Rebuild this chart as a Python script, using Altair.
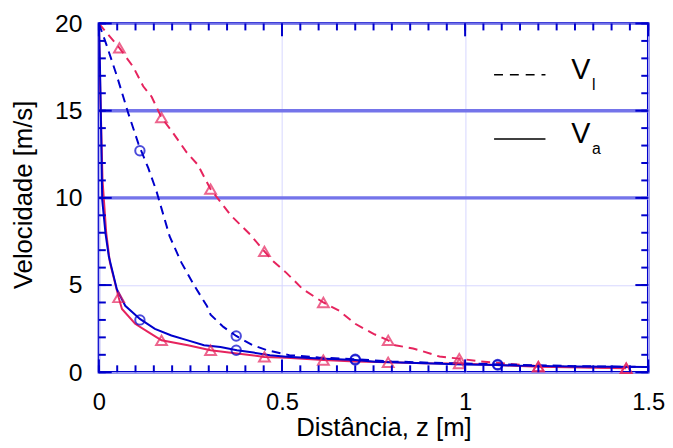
import altair as alt
import pandas as pd

# ---- data ----
# Blue series (circles): dashed = V_l, solid = V_a
blue_l_x = [0.0, 0.022, 0.049, 0.081, 0.108, 0.135, 0.157, 0.193, 0.225, 0.261, 0.295, 0.305, 0.34, 0.375, 0.42, 0.46, 0.52, 0.6, 0.7, 0.8, 0.9, 1.0, 1.1, 1.2, 1.3, 1.5]
blue_l_y = [20.0, 18.7, 17.0, 14.8, 13.1, 11.7, 10.4, 7.8, 6.3, 4.95, 3.8, 3.3, 2.6, 2.08, 1.55, 1.26, 0.98, 0.85, 0.75, 0.62, 0.55, 0.5, 0.45, 0.4, 0.35, 0.3]
blue_a_x = [0.0, 0.003, 0.006, 0.009, 0.018, 0.027, 0.049, 0.072, 0.112, 0.153, 0.198, 0.243, 0.287, 0.332, 0.377, 0.422, 0.467, 0.512, 0.602, 0.70, 0.755, 0.89, 0.997, 1.089, 1.14, 1.3, 1.5]
blue_a_y = [20.0, 17.5, 14.0, 9.9, 7.97, 6.65, 4.76, 3.81, 3.06, 2.49, 2.11, 1.83, 1.55, 1.45, 1.26, 1.13, 0.98, 0.89, 0.79, 0.70, 0.6, 0.51, 0.45, 0.41, 0.38, 0.33, 0.3]
blue_marker_l_x = [0.112, 0.375, 0.70, 1.089]
blue_marker_l_y = [12.7, 2.08, 0.75, 0.45]
blue_marker_a_x = [0.112, 0.375, 0.70, 1.089]
blue_marker_a_y = [3.0, 1.26, 0.70, 0.41]

# Red series (triangles): dashed = V_l, solid = V_a
red_l_x = [0.0, 0.056, 0.094, 0.121, 0.144, 0.171, 0.2, 0.24, 0.27, 0.305, 0.36, 0.413, 0.452, 0.476, 0.512, 0.557, 0.613, 0.656, 0.70, 0.75, 0.79, 0.809, 0.858, 0.88, 0.93, 0.984, 1.04, 1.2, 1.44]
red_l_y = [20.0, 18.6, 17.5, 16.4, 15.8, 14.6, 13.8, 12.6, 11.9, 10.5, 9.0, 7.9, 6.93, 6.36, 5.7, 4.76, 4.0, 3.53, 2.78, 2.2, 1.83, 1.55, 1.36, 1.23, 0.9, 0.78, 0.62, 0.35, 0.25]
red_a_x = [0.0, 0.004, 0.01, 0.02, 0.03, 0.054, 0.063, 0.099, 0.135, 0.171, 0.243, 0.305, 0.377, 0.452, 0.512, 0.613, 0.70, 0.79, 0.89, 0.984, 1.1, 1.2, 1.44]
red_a_y = [20.0, 16.0, 11.0, 8.0, 6.3, 4.29, 3.63, 2.78, 2.3, 1.83, 1.55, 1.26, 1.08, 0.88, 0.83, 0.70, 0.62, 0.57, 0.51, 0.5, 0.4, 0.32, 0.23]
red_marker_l_x = [0.056, 0.171, 0.305, 0.452, 0.613, 0.79, 0.984, 1.2, 1.44]
red_marker_l_y = [18.6, 14.6, 10.5, 6.93, 4.0, 1.83, 0.78, 0.32, 0.23]
red_marker_a_x = [0.054, 0.171, 0.305, 0.452, 0.613, 0.79, 0.984, 1.2, 1.44]
red_marker_a_y = [4.29, 1.83, 1.26, 0.88, 0.70, 0.57, 0.5, 0.32, 0.23]

x_tick_labels = [0, 0.5, 1, 1.5]
y_tick_labels = [0, 5, 10, 15, 20]
emphasized_levels = [10, 15]
x_minor_ticks = [round(i * 0.05, 2) for i in range(31)]
x_major_ticks = [0, 0.5, 1.0, 1.5]
y_minor_ticks = list(range(0, 21))
y_major_ticks = [0, 5, 10, 15, 20]

legend_entries = ["V", "V"]
legend_subs = ["l", "a"]

BLUE = "#0000cc"
RED = "#e6245e"
FONT = "Liberation Sans"
W, H = 556, 353

xs = alt.Scale(domain=[0, 1.5], nice=False, zero=False)
ys = alt.Scale(domain=[0, 20], nice=False, zero=False)


def series(xv, yv):
    return pd.DataFrame({"x": xv, "y": yv, "i": list(range(len(xv)))})


xaxis = alt.Axis(values=x_tick_labels, title="Distância, z [m]", grid=True,
                 gridColor="#d6d6ff", gridWidth=1, ticks=False, tickSize=0,
                 domain=False, labelFont=FONT, labelFontSize=24, labelColor="black",
                 labelBaseline="alphabetic", labelPadding=38,
                 titleFont=FONT, titleFontSize=26, titleFontWeight="normal",
                 titleColor="black", titleBaseline="alphabetic", titleX=288, titleY=64,
                 labelFlush=False, format="~g")
yaxis = alt.Axis(values=y_tick_labels, title="Velocidade [m/s]", grid=True,
                 gridColor="#d6d6ff", gridWidth=1, ticks=False, tickSize=0,
                 domain=False, labelFont=FONT, labelFontSize=25, labelColor="black",
                 labelPadding=17,
                 titleFont=FONT, titleFontSize=26, titleFontWeight="normal",
                 titleColor="black", titleBaseline="alphabetic", titleX=-68, titleY=173,
                 labelFlush=False)

base_df = series([0, 1.5], [0, 20])
frame = alt.Chart(base_df).mark_point(opacity=0).encode(
    x=alt.X("x:Q", scale=xs, axis=xaxis),
    y=alt.Y("y:Q", scale=ys, axis=yaxis),
)

thick = alt.Chart(pd.DataFrame({"y": emphasized_levels})).mark_rule(
    color="#7474ea", strokeWidth=3.5).encode(y=alt.Y("y:Q", scale=ys))


def line(df, color, dashed):
    kw = {"strokeDash": [9, 6]} if dashed else {}
    return alt.Chart(df).mark_line(color=color, strokeWidth=2, clip=True, **kw).encode(
        x=alt.X("x:Q", scale=xs), y=alt.Y("y:Q", scale=ys), order="i:Q")


def markers(df, color, shape, size):
    return alt.Chart(df).mark_point(shape=shape, color=color, filled=False,
                                    strokeWidth=2, size=size).encode(
        x=alt.X("x:Q", scale=xs), y=alt.Y("y:Q", scale=ys))


layers = [
    frame, thick,
    line(series(red_l_x, red_l_y), RED, True),
    line(series(red_a_x, red_a_y), RED, False),
    line(series(blue_l_x, blue_l_y), BLUE, True),
    line(series(blue_a_x, blue_a_y), BLUE, False),
    markers(series(blue_marker_l_x, blue_marker_l_y), BLUE, "circle", 90),
    markers(series(blue_marker_a_x, blue_marker_a_y), BLUE, "circle", 90),
    markers(series(red_marker_l_x, red_marker_l_y), RED, "triangle-up", 120),
    markers(series(red_marker_a_x, red_marker_a_y), RED, "triangle-up", 120),
]

# inward ticks on all four sides
xmin_df = pd.DataFrame({"x": x_minor_ticks})
xmaj_df = pd.DataFrame({"x": x_major_ticks})
ymin_df = pd.DataFrame({"y": y_minor_ticks})
ymaj_df = pd.DataFrame({"y": y_major_ticks})
for df, ln in ((xmin_df, 7), (xmaj_df, 13)):
    layers.append(alt.Chart(df).mark_rule(color=BLUE, strokeWidth=2).encode(
        x=alt.X("x:Q", scale=xs), y=alt.value(H), y2=alt.value(H - ln)))
    layers.append(alt.Chart(df).mark_rule(color=BLUE, strokeWidth=2).encode(
        x=alt.X("x:Q", scale=xs), y=alt.value(0), y2=alt.value(ln)))
for df, ln in ((ymin_df, 7), (ymaj_df, 13)):
    layers.append(alt.Chart(df).mark_rule(color=BLUE, strokeWidth=2).encode(
        y=alt.Y("y:Q", scale=ys), x=alt.value(0), x2=alt.value(ln)))
    layers.append(alt.Chart(df).mark_rule(color=BLUE, strokeWidth=2).encode(
        y=alt.Y("y:Q", scale=ys), x=alt.value(W), x2=alt.value(W - ln)))

# legend
leg_df = pd.DataFrame({"t": legend_entries, "s": legend_subs})
layers.append(alt.Chart(leg_df.iloc[[0]]).mark_rule(color="black", strokeWidth=1.5, strokeDash=[9, 7]).encode(
    x=alt.value(400), x2=alt.value(452), y=alt.value(52)))
layers.append(alt.Chart(leg_df.iloc[[1]]).mark_rule(color="black", strokeWidth=1.5).encode(
    x=alt.value(400), x2=alt.value(452), y=alt.value(117)))
for row, yv in ((0, 56), (1, 121)):
    sub = leg_df.iloc[[row]]
    layers.append(alt.Chart(sub).mark_text(font=FONT, fontSize=29, align="left", baseline="alphabetic", color="black").encode(
        text="t:N", x=alt.value(478), y=alt.value(yv)))
    layers.append(alt.Chart(sub).mark_text(font=FONT, fontSize=16, align="left", baseline="alphabetic", color="black").encode(
        text="s:N", x=alt.value(499), y=alt.value(yv + 11)))

chart = alt.layer(*layers).properties(
    width=W, height=H,
    autosize=alt.AutoSizeParams(type="none"),
    padding={"left": 92, "top": 13, "right": 17, "bottom": 74},
).configure_view(stroke=BLUE, strokeWidth=2.5)

chart.save("out.html", embed_options={"renderer": "svg", "actions": False})
